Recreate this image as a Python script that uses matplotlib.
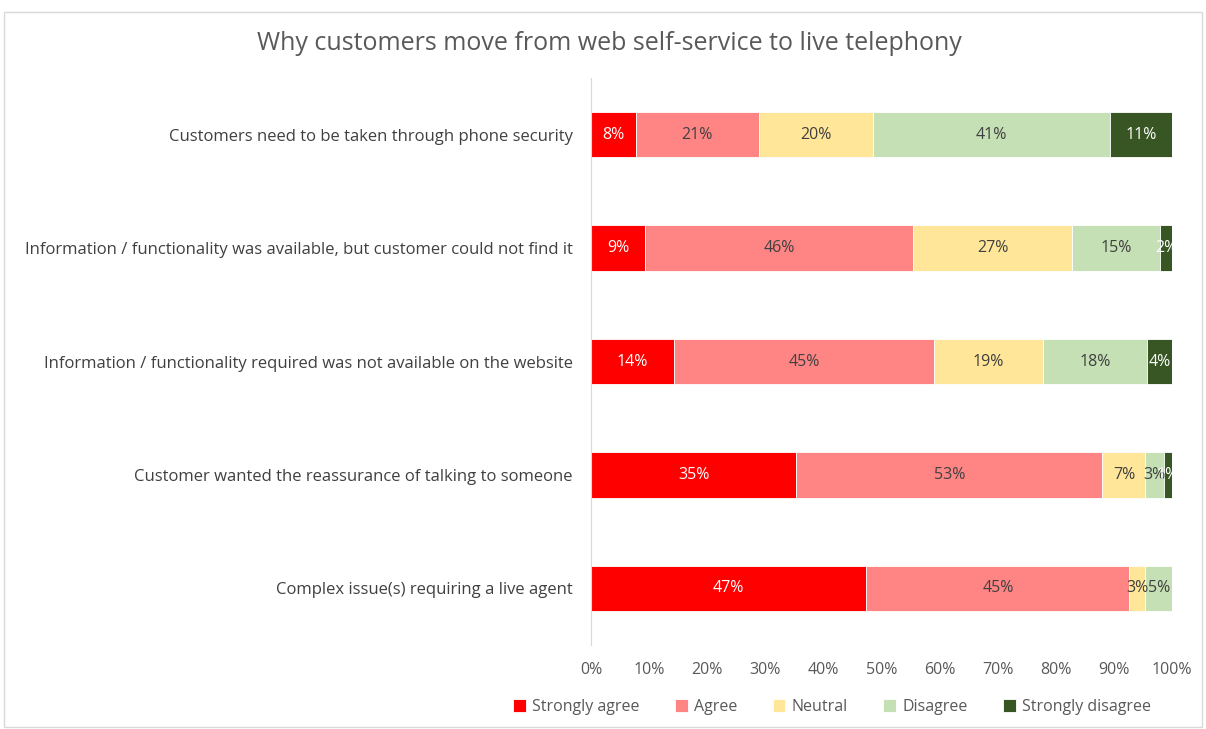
import numpy as np
import matplotlib.pyplot as plt
from matplotlib.patches import Rectangle

# survey answers, top row first (percent of respondents)
reasons = [
    "Customers need to be taken through phone security",
    "Information / functionality was available, but customer could not find it",
    "Information / functionality required was not available on the website",
    "Customer wanted the reassurance of talking to someone",
    "Complex issue(s) requiring a live agent",
]
series = ["Strongly agree", "Agree", "Neutral", "Disagree", "Strongly disagree"]
strongly_agree = [7.7, 9.3, 14.3, 35.3, 47.4]
agree = [21.2, 46.1, 44.7, 52.7, 45.2]
neutral = [19.6, 27.4, 18.8, 7.4, 2.8]
disagree = [40.8, 15.1, 17.9, 3.2, 4.6]
strongly_disagree = [10.8, 2.1, 4.3, 1.4, 0.0]

colors = ["#FF0000", "#FF8585", "#FFE699", "#C5E0B4", "#375623"]
text_colors = ["white", "#404040", "#404040", "#404040", "white"]

plt.rcParams['font.family'] = ['Open Sans', 'DejaVu Sans']

fig = plt.figure(figsize=(12.06, 7.29), dpi=100)
ax = fig.add_axes([0.490, 0.115, 0.482, 0.778])

# light frame round the chart
fig.patches.append(Rectangle((0.003, 0.003), 0.994, 0.981, transform=fig.transFigure,
                             fill=False, edgecolor="#D9D9D9", linewidth=1))

y = np.arange(len(reasons))
left = np.zeros(len(reasons))
data = [strongly_agree, agree, neutral, disagree, strongly_disagree]
for vals, name, col, tcol in zip(data, series, colors, text_colors):
    vals = np.array(vals)
    bars = ax.barh(y, vals, left=left, height=0.4, color=col, label=name,
                   edgecolor="white", linewidth=0.6)
    for b, v in zip(bars, vals):
        if v > 0:
            ax.text(b.get_x() + b.get_width() / 2, b.get_y() + b.get_height() / 2,
                    f"{int(round(v))}%", ha="center", va="center",
                    fontsize=11.5, color=tcol)
    left += vals

ax.set_xlim(0, 100)
ax.set_ylim(len(reasons) - 0.5, -0.5)
ax.set_yticks(y)
ax.set_yticklabels(reasons, fontsize=12, color="#404040")
ax.set_xticks(np.arange(0, 101, 10))
ax.set_xticklabels([f"{t}%" for t in range(0, 101, 10)], fontsize=11.5, color="#595959")
ax.tick_params(length=0)
ax.tick_params(axis="y", pad=13)
ax.tick_params(axis="x", pad=12)
for s in ["top", "right", "bottom"]:
    ax.spines[s].set_visible(False)
ax.spines["left"].set_color("#D9D9D9")

fig.text(0.505, 0.94, "Why customers move from web self-service to live telephony",
         ha="center", va="center", fontsize=18, color="#595959")

fig.legend(loc="center", bbox_to_anchor=(0.69, 0.03), ncol=5, frameon=False,
           fontsize=11.5, handlelength=0.8, handleheight=0.8, columnspacing=2.2,
           handletextpad=0.4, labelcolor="#595959")

fig.savefig("out.png", dpi=100)
